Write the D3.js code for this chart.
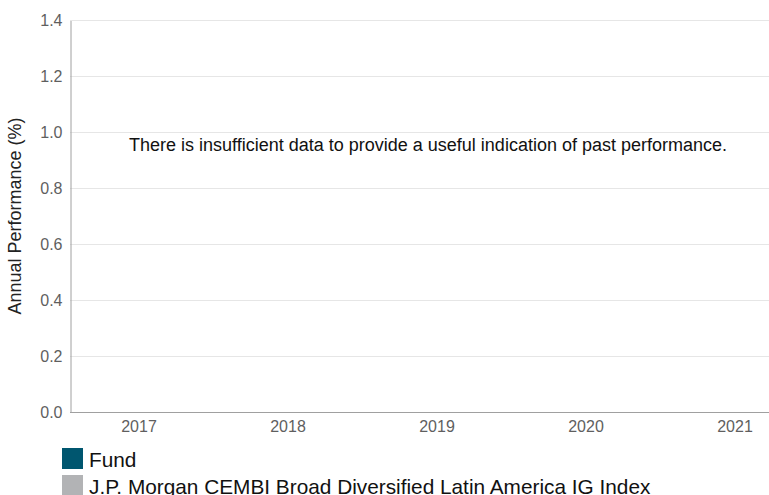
<!DOCTYPE html>
<html>
<head>
<meta charset="utf-8">
<script src="https://cdn.jsdelivr.net/npm/d3@7"></script>
<style>
  body { margin: 0; background: #fff; }
  svg { display: block; font-family: "Liberation Sans", Arial, sans-serif; }
</style>
</head>
<body>
<svg width="769" height="495"></svg>
<script>
    let years = ["2017", "2018", "2019", "2020", "2021"];
    let yTicks = [0, 0.2, 0.4, 0.6, 0.8, 1.0, 1.2, 1.4];
    let seriesNames = ["Fund", "J.P. Morgan CEMBI Broad Diversified Latin America IG Index"];
    let seriesColors = ["#00566f", "#b2b3b5"];
    let message = "There is insufficient data to provide a useful indication of past performance.";

    let svg = d3.select("svg");
    let plot = { left: 70, right: 769, top: 20, bottom: 412 };

    let x = d3.scaleBand()
        .domain(years)
        .range([64.5, 64.5 + 149 * years.length]);
    let y = d3.scaleLinear()
        .domain([0, 1.4])
        .range([plot.bottom, plot.top]);

    // grid lines
    svg.append("g")
        .selectAll("line")
        .data(yTicks.filter(function (d) { return d > 0; }))
        .enter()
        .append("line")
        .attr("x1", plot.left)
        .attr("x2", plot.right)
        .attr("y1", function (d) { return y(d) + 0.5; })
        .attr("y2", function (d) { return y(d) + 0.5; })
        .attr("stroke", "#e6e6e6");

    // y axis
    let yAxis = svg.append("g")
        .attr("transform", "translate(" + (plot.left + 0.5) + ",0.5)")
        .call(d3.axisLeft(y).tickValues(yTicks).tickFormat(d3.format(".1f")).tickSize(0).tickPadding(8));
    yAxis.attr("font-size", null).attr("font-family", null);
    yAxis.select(".domain").attr("stroke", "#a0a0a0");
    yAxis.selectAll("text")
        .style("font-size", "16px")
        .attr("fill", "#5f5f5f");

    // x axis
    let xAxis = svg.append("g")
        .attr("transform", "translate(0," + (plot.bottom + 0.5) + ")")
        .call(d3.axisBottom(x).tickSize(0).tickPadding(8));
    xAxis.attr("font-size", null).attr("font-family", null);
    xAxis.select(".domain").attr("d", "M" + plot.left + ",0H" + plot.right).attr("stroke", "#a0a0a0");
    xAxis.selectAll("text")
        .style("font-size", "16px")
        .attr("fill", "#5f5f5f");

    // y axis title
    svg.append("text")
        .attr("transform", "translate(21," + ((plot.top + plot.bottom) / 2) + ") rotate(-90)")
        .attr("text-anchor", "middle")
        .style("font-size", "18px")
        .attr("fill", "#222")
        .text("Annual Performance (%)");

    // no data message
    svg.append("text")
        .attr("x", 428)
        .attr("y", 151)
        .attr("text-anchor", "middle")
        .style("font-size", "18px")
        .style("font-family", "'Liberation Sans Narrow', 'Arial Narrow', 'Liberation Sans', sans-serif")
        .attr("fill", "#111")
        .attr("textLength", 598)
        .attr("lengthAdjust", "spacingAndGlyphs")
        .text(message);

    // legend
    let legend = svg.append("g")
        .selectAll("g")
        .data(seriesNames)
        .enter()
        .append("g")
        .attr("transform", function (d, i) { return "translate(62," + (448 + i * 27) + ")"; });
    legend.append("rect")
        .attr("width", 21)
        .attr("height", 21)
        .attr("fill", function (d, i) { return seriesColors[i]; });
    legend.append("text")
        .attr("x", 27)
        .attr("y", 19)
        .style("font-size", "20.8px")
        .attr("fill", "#111")
        .text(function (d) { return d; });
</script>
</body>
</html>
